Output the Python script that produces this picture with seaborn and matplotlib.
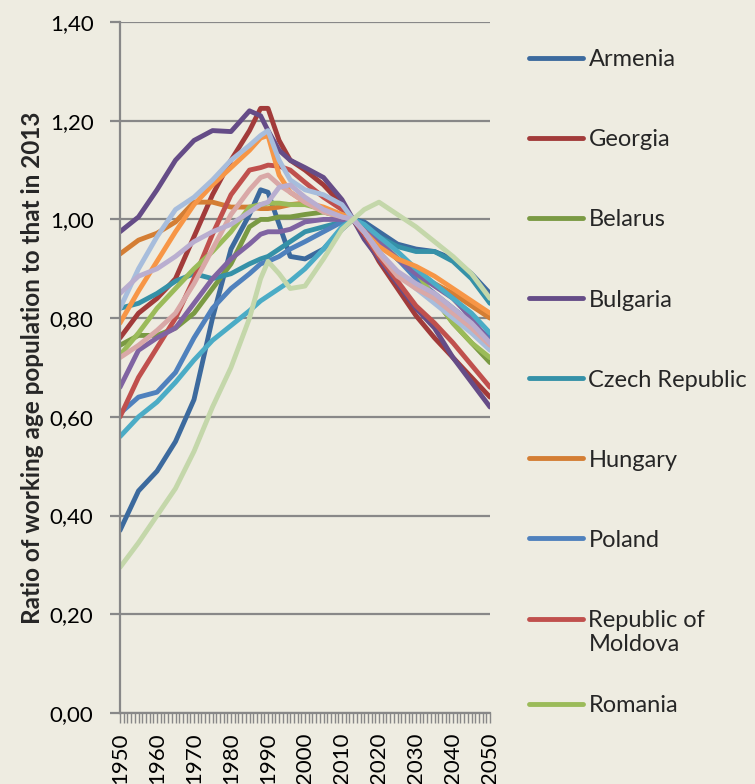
import matplotlib
matplotlib.use("Agg")
import matplotlib.pyplot as plt
import numpy as np
import pandas as pd
import seaborn as sns
from matplotlib.lines import Line2D
from matplotlib.ticker import FuncFormatter, MultipleLocator

years = [1950, 1955, 1960, 1965, 1970, 1975, 1980, 1985, 1988, 1990, 1993, 1996,
         2000, 2005, 2010, 2013, 2016, 2020, 2025, 2030, 2035, 2040, 2045, 2050]

armenia = [0.37, 0.45, 0.49, 0.55, 0.635, 0.80, 0.94, 1.01, 1.06, 1.055, 0.99, 0.925,
           0.92, 0.94, 0.98, 1.00, 0.995, 0.975, 0.95, 0.94, 0.935, 0.92, 0.89, 0.85]
georgia = [0.76, 0.81, 0.84, 0.88, 0.965, 1.05, 1.12, 1.18, 1.225, 1.225, 1.16, 1.12,
           1.10, 1.07, 1.03, 1.00, 0.97, 0.915, 0.86, 0.805, 0.76, 0.72, 0.68, 0.64]
belarus = [0.745, 0.765, 0.765, 0.78, 0.81, 0.86, 0.91, 0.985, 1.00, 1.00, 1.005, 1.005,
           1.01, 1.015, 1.005, 1.00, 0.98, 0.955, 0.92, 0.89, 0.84, 0.79, 0.75, 0.71]
bulgaria = [0.975, 1.005, 1.06, 1.12, 1.16, 1.18, 1.178, 1.22, 1.21, 1.18, 1.14, 1.12,
            1.105, 1.085, 1.04, 1.00, 0.96, 0.92, 0.87, 0.82, 0.78, 0.72, 0.67, 0.62]
czech = [0.82, 0.83, 0.85, 0.875, 0.89, 0.88, 0.89, 0.91, 0.92, 0.925, 0.94, 0.955,
         0.975, 0.985, 0.995, 1.00, 0.99, 0.965, 0.945, 0.935, 0.935, 0.915, 0.88, 0.83]
hungary = [0.93, 0.958, 0.972, 0.995, 1.035, 1.035, 1.025, 1.025, 1.022, 1.022, 1.025, 1.03,
           1.033, 1.02, 1.005, 1.00, 0.98, 0.955, 0.92, 0.89, 0.87, 0.85, 0.825, 0.80]
poland = [0.607, 0.64, 0.65, 0.69, 0.76, 0.82, 0.86, 0.89, 0.91, 0.915, 0.925, 0.94,
          0.955, 0.975, 0.995, 1.00, 0.985, 0.955, 0.92, 0.88, 0.85, 0.82, 0.79, 0.76]
moldova = [0.60, 0.68, 0.74, 0.80, 0.88, 0.97, 1.05, 1.10, 1.105, 1.11, 1.108, 1.10,
           1.075, 1.045, 1.02, 1.00, 0.97, 0.925, 0.875, 0.825, 0.79, 0.75, 0.705, 0.66]
romania = [0.725, 0.77, 0.82, 0.86, 0.90, 0.935, 0.975, 1.025, 1.03, 1.033, 1.033, 1.03,
           1.03, 1.02, 1.01, 1.00, 0.98, 0.955, 0.92, 0.895, 0.84, 0.79, 0.75, 0.72]
russia = [0.66, 0.735, 0.76, 0.78, 0.83, 0.88, 0.92, 0.95, 0.97, 0.975, 0.975, 0.98,
          0.995, 1.00, 1.00, 1.00, 0.985, 0.955, 0.92, 0.89, 0.865, 0.84, 0.80, 0.75]
slovakia = [0.56, 0.60, 0.63, 0.67, 0.715, 0.755, 0.785, 0.815, 0.835, 0.845, 0.86, 0.875,
            0.90, 0.94, 0.985, 1.00, 0.99, 0.965, 0.935, 0.90, 0.87, 0.84, 0.81, 0.77]
ukraine = [0.79, 0.855, 0.915, 0.975, 1.03, 1.07, 1.105, 1.14, 1.165, 1.17, 1.09, 1.055,
           1.035, 1.025, 1.01, 1.00, 0.975, 0.945, 0.92, 0.905, 0.885, 0.86, 0.835, 0.81]
latvia = [0.82, 0.90, 0.965, 1.02, 1.045, 1.08, 1.12, 1.15, 1.17, 1.18, 1.12, 1.08,
          1.06, 1.05, 1.03, 1.00, 0.975, 0.935, 0.89, 0.86, 0.83, 0.80, 0.77, 0.735]
lithuania = [0.72, 0.745, 0.775, 0.81, 0.87, 0.94, 1.01, 1.06, 1.085, 1.09, 1.07, 1.055,
             1.035, 1.015, 1.005, 1.00, 0.975, 0.93, 0.885, 0.86, 0.84, 0.81, 0.78, 0.745]
estonia = [0.85, 0.885, 0.90, 0.925, 0.955, 0.975, 0.99, 1.015, 1.03, 1.035, 1.065, 1.07,
           1.045, 1.02, 1.005, 1.00, 0.975, 0.935, 0.895, 0.87, 0.85, 0.82, 0.79, 0.75]
albania = [0.295, 0.345, 0.40, 0.455, 0.53, 0.62, 0.70, 0.80, 0.88, 0.915, 0.89, 0.86,
           0.865, 0.92, 0.98, 1.00, 1.02, 1.035, 1.01, 0.985, 0.955, 0.925, 0.89, 0.84]

countries = ["Armenia", "Georgia", "Belarus", "Bulgaria", "Czech Republic", "Hungary",
             "Poland", "Republic of Moldova", "Romania", "Russian Federation", "Slovakia",
             "Ukraine", "Latvia", "Lithuania", "Estonia", "Albania"]
series = [armenia, georgia, belarus, bulgaria, czech, hungary, poland, moldova, romania,
          russia, slovakia, ukraine, latvia, lithuania, estonia, albania]
colors = ["#3C6A9E", "#A23B3A", "#7A9A43", "#654C87", "#3591A8", "#D47E34",
          "#4F81BD", "#C0504D", "#9BBB59", "#8064A2", "#4BACC6", "#F79646",
          "#A7BDDC", "#D9A8A7", "#B9AED0", "#C4D7AA"]
legend_labels = ["Armenia", "Georgia", "Belarus", "Bulgaria", "Czech Republic", "Hungary",
                 "Poland", "Republic of\nMoldova", "Romania"]

df = pd.concat([pd.DataFrame({"Year": years, "Ratio": v, "Country": c})
                for c, v in zip(countries, series)], ignore_index=True)

bg = "#EEECE1"
grid_c = "#888888"
sns.set_theme(style="white", rc={"axes.facecolor": bg, "figure.facecolor": bg})
plt.rcParams["font.family"] = ["Lato", "DejaVu Sans"]

fig = plt.figure(figsize=(7.55, 7.84), dpi=100)
ax = fig.add_axes([120 / 755, 71 / 784, 370 / 755, 691 / 784])

sns.lineplot(data=df, x="Year", y="Ratio", hue="Country", hue_order=countries,
             palette=dict(zip(countries, colors)), linewidth=3.5, estimator=None,
             legend=False, ax=ax)
for ln in ax.lines:
    ln.set_solid_capstyle("round")
    ln.set_solid_joinstyle("round")

ax.set_xlim(1950, 2050)
ax.set_ylim(0, 1.4)
ax.yaxis.set_major_locator(MultipleLocator(0.2))
ax.yaxis.set_major_formatter(FuncFormatter(lambda v, p: f"{v:.2f}".replace(".", ",")))
ax.xaxis.set_major_locator(MultipleLocator(10))
ax.xaxis.set_minor_locator(MultipleLocator(1))
ax.xaxis.set_major_formatter(FuncFormatter(lambda v, p: f"{int(round(v))}"))
ax.yaxis.grid(True, color=grid_c, linewidth=1.6)
ax.xaxis.grid(False)
ax.set_axisbelow(True)
for s in ["top", "right"]:
    ax.spines[s].set_visible(False)
for s in ["left", "bottom"]:
    ax.spines[s].set_color(grid_c)
    ax.spines[s].set_linewidth(1.6)

ax.tick_params(axis="y", which="major", left=True, length=7, width=1.6, color=grid_c,
               direction="out", labelsize=16, pad=12, labelcolor="black")
ax.tick_params(axis="x", which="both", bottom=True, length=7, width=1.0, color=grid_c,
               direction="out")
ax.tick_params(axis="x", which="major", labelsize=16, labelrotation=90, pad=7,
               labelcolor="black")

ax.set_xlabel("")
ax.set_ylabel("Ratio of working age population to that in 2013", fontsize=17.5,
              fontweight="bold", labelpad=4)

handles = [Line2D([0], [0], color=c, linewidth=3.5, solid_capstyle="round")
           for c in colors[:9]]
leg_kw = dict(loc="upper left", frameon=False, fontsize=17, handlelength=2.25,
              handletextpad=0.25, labelspacing=2.5, borderaxespad=0)
leg1 = fig.legend(handles[:8], legend_labels[:8],
                  bbox_to_anchor=(520 / 755, 1 - 40 / 784), **leg_kw)
# align the Moldova marker with the first line of its two-line label
mline = leg1.get_lines()[7]
mline.set_ydata(np.asarray(mline.get_ydata(), dtype=float) + 9.5)
leg2 = fig.legend(handles[8:], legend_labels[8:],
                  bbox_to_anchor=(520 / 755, 1 - 686 / 784), **leg_kw)

fig.savefig("out.png", dpi=100, facecolor=bg)
